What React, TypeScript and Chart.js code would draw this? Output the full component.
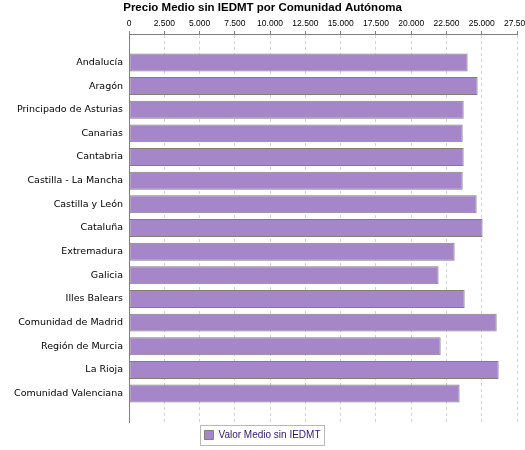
import { useEffect, useRef } from "react"
import { Chart, registerables } from "chart.js"

Chart.register(...registerables)

const comunidades = [
  "Andalucía",
  "Aragón",
  "Principado de Asturias",
  "Canarias",
  "Cantabria",
  "Castilla - La Mancha",
  "Castilla y León",
  "Cataluña",
  "Extremadura",
  "Galicia",
  "Illes Balears",
  "Comunidad de Madrid",
  "Región de Murcia",
  "La Rioja",
  "Comunidad Valenciana",
]

const valorMedio = [
  24000, 24710, 23720, 23650, 23720, 23650, 24640, 25060, 23080, 21940, 23790, 26060, 22090, 26200,
  23430,
]

const xTicks = [0, 2500, 5000, 7500, 10000, 12500, 15000, 17500, 20000, 22500, 25000, 27500]

const formatMiles = (v: number) => String(v).replace(/\B(?=(\d{3})+(?!\d))/g, ".")

// solid top axis line and a frame around the legend, like the original image
const frames = {
  id: "frames",
  afterDraw(chart: any) {
    const ctx = chart.ctx
    const { left, right, top } = chart.chartArea
    ctx.save()
    ctx.setLineDash([])
    ctx.strokeStyle = "#808080"
    ctx.lineWidth = 1
    ctx.beginPath()
    ctx.moveTo(Math.round(left), Math.round(top) + 0.5)
    ctx.lineTo(Math.round(right) + 1, Math.round(top) + 0.5)
    ctx.stroke()

    const legend = chart.legend
    if (legend && legend.legendHitBoxes && legend.legendHitBoxes.length) {
      const hb = legend.legendHitBoxes[0]
      const cy = hb.top + hb.height / 2
      ctx.strokeStyle = "#b8b8b8"
      ctx.strokeRect(Math.round(hb.left - 4) + 0.5, Math.round(cy - 10) + 0.5, Math.round(hb.width + 8), 20)
    }
    ctx.restore()
  },
}

export function PrecioChart() {
  const chartRef = useRef<HTMLCanvasElement>(null)
  const chartInstance = useRef<Chart | null>(null)

  useEffect(() => {
    document.body.style.margin = "0"
    if (!chartRef.current) return
    const ctx = chartRef.current.getContext("2d")
    if (!ctx) return

    if (chartInstance.current) {
      chartInstance.current.destroy()
    }

    chartInstance.current = new Chart(ctx, {
      type: "bar",
      data: {
        datasets: [
          {
            label: "Valor Medio sin IEDMT",
            data: valorMedio.map((v, i) => ({ x: v, y: i })),
            backgroundColor: "#a586c9",
            borderColor: "#7f7f7f",
            borderWidth: 1,
            borderSkipped: false,
            barPercentage: 1,
            categoryPercentage: 0.76,
          },
        ],
      },
      options: {
        indexAxis: "y",
        animation: false,
        responsive: true,
        maintainAspectRatio: false,
        layout: { padding: { left: 0, right: 0, top: 0, bottom: 0 } },
        plugins: {
          title: {
            display: true,
            text: "Precio Medio sin IEDMT por Comunidad Autónoma",
            color: "#000",
            font: { family: "'Liberation Sans', Arial, sans-serif", size: 11.5, weight: "bold" },
            padding: { top: 1, bottom: 2 },
          },
          legend: {
            position: "bottom",
            labels: {
              boxWidth: 9,
              boxHeight: 9,
              padding: 8,
              color: "#2e1a66",
              font: { family: "'Liberation Sans', Arial, sans-serif", size: 10 },
            },
          },
          tooltip: { enabled: false },
        },
        scales: {
          x: {
            type: "linear",
            position: "top",
            min: 0,
            max: 27500,
            afterBuildTicks: (scale: any) => {
              scale.ticks = xTicks.map((v) => ({ value: v }))
            },
            afterFit: (scale: any) => {
              // let the last label run off the edge as in the original
              scale.paddingRight = 8
            },
            ticks: {
              color: "#000",
              padding: 2,
              font: { family: "'Liberation Sans', Arial, sans-serif", size: 8.5 },
              callback: (v: any) => formatMiles(Number(v)),
            },
            grid: {
              color: "#d2d2d2",
              tickColor: "#808080",
              tickLength: 3,
              tickBorderDash: [],
            },
            border: { color: "#808080", width: 1, dash: [3, 3] },
          },
          y: {
            type: "linear",
            reverse: true,
            offset: false,
            bounds: "data",
            min: -1.2,
            max: comunidades.length - 1 + 1.2,
            afterBuildTicks: (scale: any) => {
              scale.ticks = comunidades.map((_, i) => ({ value: i }))
            },
            afterFit: (scale: any) => {
              scale.width = 129
            },
            ticks: {
              autoSkip: false,
              stepSize: 1,
              maxTicksLimit: 40,
              color: "#000",
              padding: 6,
              font: { family: "'DejaVu Sans', sans-serif", size: 9.5 },
              callback: (v: any) => comunidades[Number(v)] ?? "",
            },
            grid: { display: false, drawTicks: false, offset: false },
            border: { color: "#808080" },
          },
        },
      },
      plugins: [frames],
    })

    return () => {
      if (chartInstance.current) {
        chartInstance.current.destroy()
        chartInstance.current = null
      }
    }
  }, [])

  return (
    <div style={{ position: "relative", width: 525, height: 450 }}>
      <canvas ref={chartRef} />
    </div>
  )
}

export default function App() {
  return <PrecioChart />
}
